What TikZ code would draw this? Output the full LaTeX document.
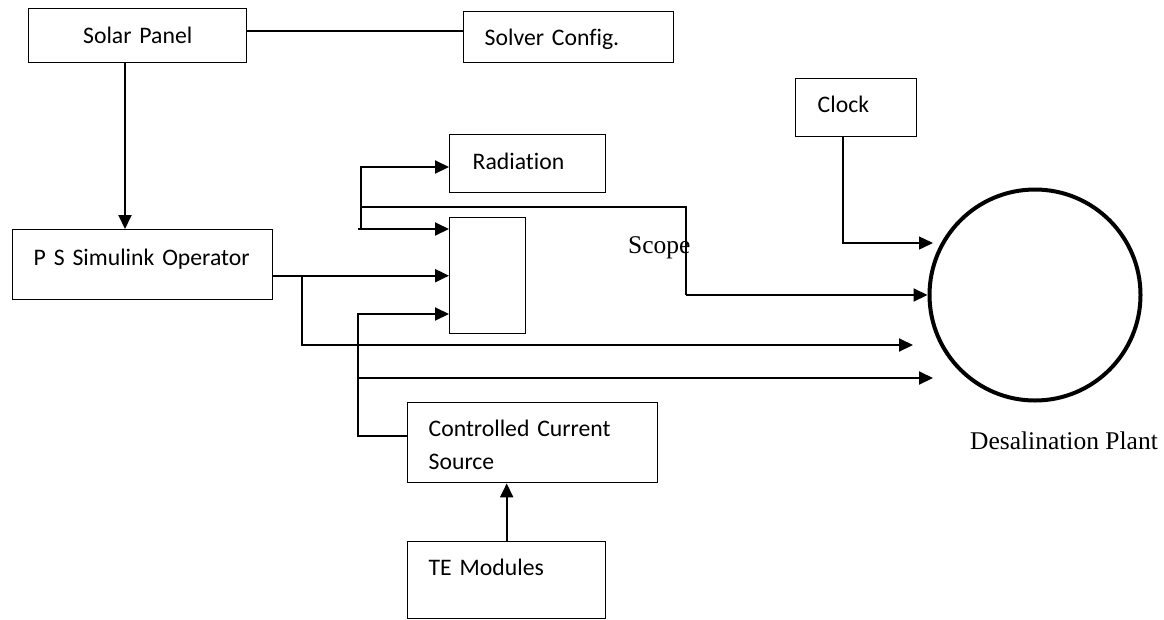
\documentclass[tikz,border=0pt]{standalone}
\usepackage{fontspec}
\setmainfont{Carlito}[Ligatures=NoCommon]
\newfontfamily\timesfont{Liberation Serif}
\usetikzlibrary{arrows.meta}
\newcommand{\boxfont}{\fontsize{23.7}{33}\selectfont}
\newcommand{\lblfont}{\timesfont\fontsize{25.5}{30}\selectfont}
\begin{document}
\begin{tikzpicture}[x=1pt,y=-1pt,
	blk/.style={draw, line width=1.4pt, anchor=north west, inner xsep=21pt, inner ysep=0pt, align=left, font=\boxfont},
	wire/.style={line width=1.4pt},
	arr/.style={line width=2pt, -{Triangle[length=14pt,width=13pt]}},
	tip/.style={-{Triangle[length=14pt,width=13pt]}}]
		\useasboundingbox (0,0) rectangle (1164,619);
		\node[blk, inner xsep=0pt, text width=218pt, align=center, text height=35pt, text depth=19pt] (solar) at (28,8) {Solar Panel};
		\node[blk, text width=168pt, text height=34pt, text depth=17pt] (solver) at (463,11) {Solver Config.};
		\node[blk, text width=218pt, text height=36pt, text depth=34pt] (ps) at (12,229) {P S Simulink Operator};
		\node[blk, inner xsep=23pt, text width=110pt, text height=35pt, text depth=23pt] (radiation) at (449,134) {Radiation};
		\node[blk, inner xsep=0pt, text width=76pt, text height=116pt, text depth=0pt] (scope) at (449,217) {};
		\node[blk, inner xsep=22pt, text width=77pt, text height=34pt, text depth=24pt] (clock) at (795,78) {Clock};
		\node[blk, text width=208pt, text height=34pt, text depth=46pt] (ccs) at (407,402) {Controlled Current\\Source};
		\node[blk, text width=156pt, text height=34pt, text depth=43pt] (te) at (407,541) {TE Modules};
		\node[draw, circle, line width=4pt, minimum size=211pt, inner sep=0pt] (plant) at (1035,295) {};
		\node[font=\lblfont, inner sep=0pt, anchor=base west] (scopelbl) at (628,253) {Scope};
		\node[font=\lblfont, inner sep=0pt, anchor=base east] (plantlbl) at (1158,449) {Desalination Plant};
		
		% top row
		\draw[wire] (solar.east |- 0,31) -- (solver.west |- 0,31);
		\draw[arr] (solar.south -| 125,0) -- (ps.north -| 125,0);
		% operator outputs
		\draw[arr] (ps.east |- scope.west) -- (scope.west);
		\draw[arr] (302,275) |- (913,345);
		\draw[arr] (361,229) |- (radiation.west |- 0,167);
		\draw[arr] (358,229) -- (scope.west |- 0,229);
		\draw[wire] (361,207) -| (686,295);
		\draw[arr] (686,295) -- (plant.west);
		% current source
		\draw[arr] (ccs.west |- 0,436) -| (358,314) -- (scope.west |- 0,314);
		\draw[arr] (358,378) -- (933,378);
		\draw[arr] (te.north) -- (te.north |- ccs.south);
		% clock
		\draw[wire,tip] (clock.south -| 843,0) |- (933,243);
		\end{tikzpicture}
\end{document}
